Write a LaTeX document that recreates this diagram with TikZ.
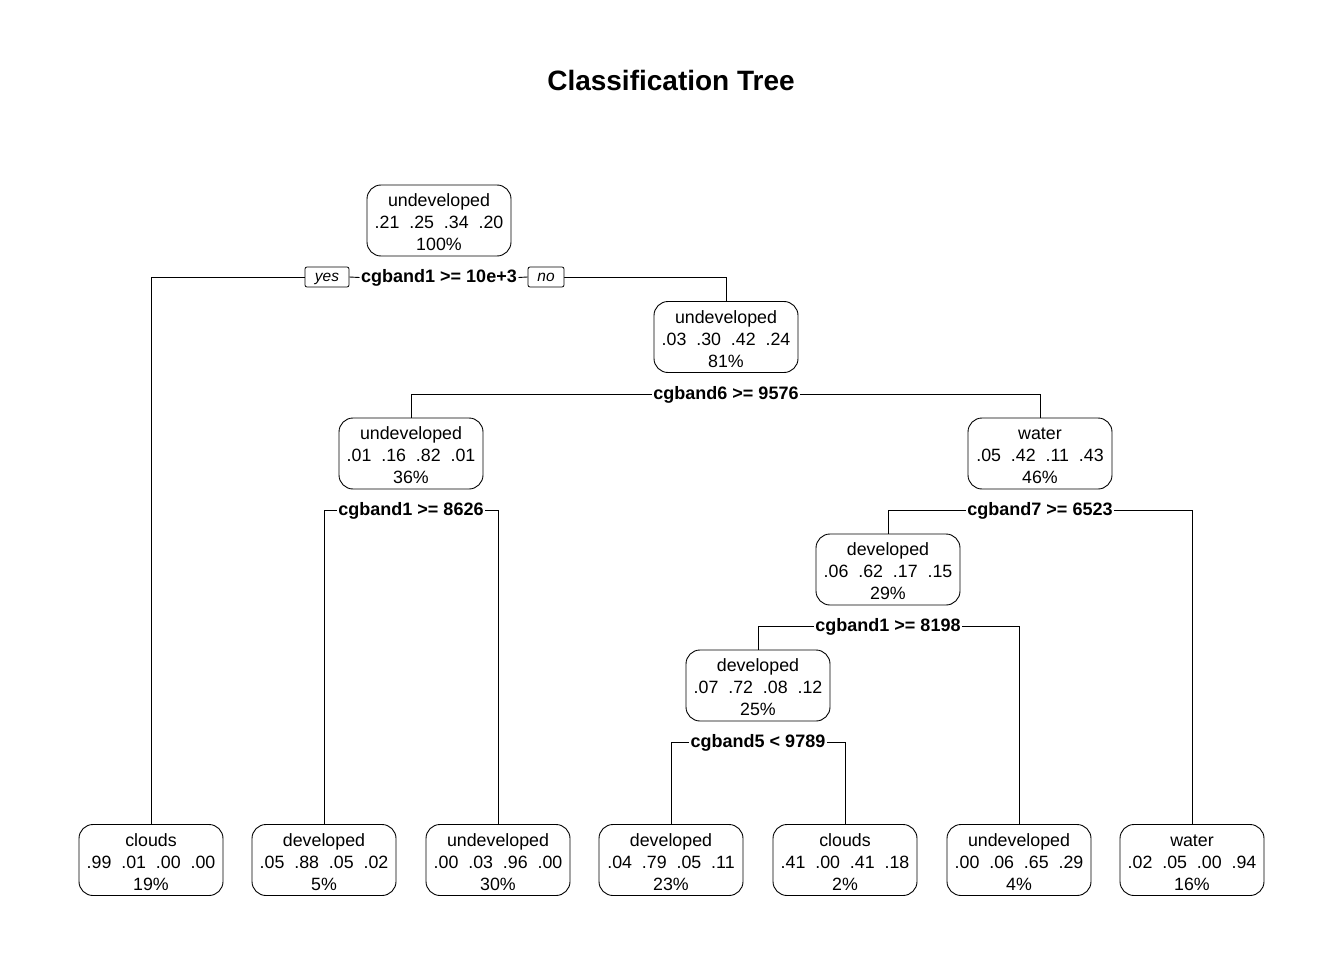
\documentclass[tikz,border=0pt]{standalone}
\usepackage{fontspec}
\setmainfont{Liberation Sans}
\usetikzlibrary{backgrounds}
\newcommand\gapx{\hspace{0.556em}}
\newcommand\probs[4]{#1\gapx#2\gapx#3\gapx#4}
\tikzset{
  box/.style={draw, rounded corners=14pt, fill=white, minimum width=144pt, minimum height=71pt,
    align=center, inner sep=0pt, text height=61pt, font=\fontsize{17.8}{22}\selectfont, line width=0.9pt},
  splitlab/.style={fill=white, inner xsep=1.5pt, inner ysep=1pt, font=\fontsize{18}{22}\bfseries\selectfont},
  yn/.style={draw, rounded corners=2pt, fill=white, minimum height=20pt, inner sep=0pt,
    text height=11pt, text depth=3pt,
    font=\fontsize{15.5}{17}\itshape\selectfont, line width=0.8pt},
  edge/.style={line width=0.9pt}
}
\begin{document}
\begin{tikzpicture}[x=1pt,y=-1pt]
\useasboundingbox (0,0) rectangle (1344,960);
\node[font=\fontsize{28}{32}\bfseries\selectfont] (title) at (671,80) {Classification Tree};

% internal nodes
\node[box] (n1) at (439,220.5) {undeveloped\\\probs{.21}{.25}{.34}{.20}\\100\%};
\node[box] (n2) at (726,337) {undeveloped\\\probs{.03}{.30}{.42}{.24}\\81\%};
\node[box] (n3) at (411,453.5) {undeveloped\\\probs{.01}{.16}{.82}{.01}\\36\%};
\node[box] (n4) at (1040,453.5) {water\\\probs{.05}{.42}{.11}{.43}\\46\%};
\node[box] (n5) at (888,569.5) {developed\\\probs{.06}{.62}{.17}{.15}\\29\%};
\node[box] (n6) at (758,685.5) {developed\\\probs{.07}{.72}{.08}{.12}\\25\%};

% leaves
\node[box] (l1) at (151,860) {clouds\\\probs{.99}{.01}{.00}{.00}\\19\%};
\node[box] (l2) at (324,860) {developed\\\probs{.05}{.88}{.05}{.02}\\5\%};
\node[box] (l3) at (498,860) {undeveloped\\\probs{.00}{.03}{.96}{.00}\\30\%};
\node[box] (l4) at (671,860) {developed\\\probs{.04}{.79}{.05}{.11}\\23\%};
\node[box] (l5) at (845,860) {clouds\\\probs{.41}{.00}{.41}{.18}\\2\%};
\node[box] (l6) at (1019,860) {undeveloped\\\probs{.00}{.06}{.65}{.29}\\4\%};
\node[box] (l7) at (1192,860) {water\\\probs{.02}{.05}{.00}{.94}\\16\%};

% split labels
\node[splitlab] (s1) at (439,277.5) {cgband1 >= 10e+3};
\node[yn, minimum width=44pt] (yes) at (327,277) {yes};
\node[yn, minimum width=36pt] (no) at (546,277) {no};
\node[splitlab] (s2) at (726,394.5) {cgband6 >= 9576};
\node[splitlab] (s3) at (411,510.5) {cgband1 >= 8626};
\node[splitlab] (s4) at (1040,510.5) {cgband7 >= 6523};
\node[splitlab] (s5) at (888,626.5) {cgband1 >= 8198};
\node[splitlab] (s6) at (758,742.5) {cgband5 < 9789};

\begin{pgfonlayer}{background}
\draw[edge] (l1.north) |- (yes.west);
\draw[edge] (yes.east) -- (s1.west);
\draw[edge] (s1.east) -- (no.west);
\draw[edge] (no.east) -| (n2.north);
\draw[edge] (n3.north) |- (s2.west);
\draw[edge] (s2.east) -| (n4.north);
\draw[edge] (l2.north) |- (s3.west);
\draw[edge] (s3.east) -| (l3.north);
\draw[edge] (n5.north) |- (s4.west);
\draw[edge] (s4.east) -| (l7.north);
\draw[edge] (n6.north) |- (s5.west);
\draw[edge] (s5.east) -| (l6.north);
\draw[edge] (l4.north) |- (s6.west);
\draw[edge] (s6.east) -| (l5.north);
\end{pgfonlayer}
\end{tikzpicture}
\end{document}
